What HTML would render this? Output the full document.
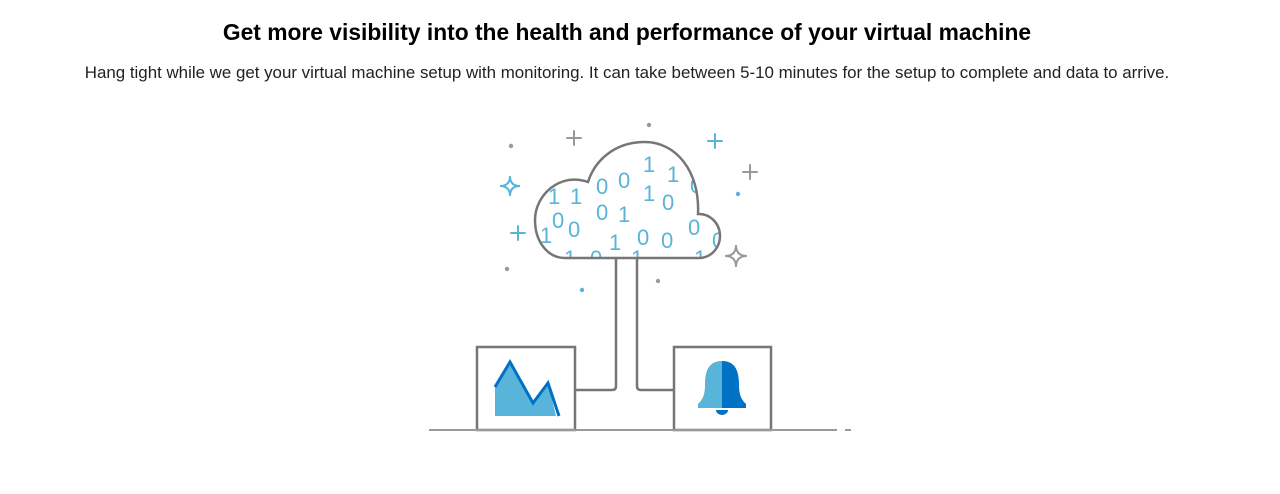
<!DOCTYPE html>
<html><head><style>
body{margin:0;width:1280px;height:494px;background:#fff;font-family:"Liberation Sans",sans-serif;overflow:hidden;position:relative}
h1{position:absolute;top:19px;left:0;width:1254px;text-align:center;margin:0;font-size:22.8px;font-weight:bold;color:#000}
p{position:absolute;top:63px;left:0;width:1254px;text-align:center;margin:0;font-size:16.9px;color:#222}
svg{position:absolute;left:0;top:0}
</style></head><body>
<h1>Get more visibility into the health and performance of your virtual machine</h1>
<p>Hang tight while we get your virtual machine setup with monitoring. It can take between 5-10 minutes for the setup to complete and data to arrive.</p>
<svg width="1280" height="494">
<defs><clipPath id="c"><path d="M565,258 H700 A21,22 0 0 0 698,214 C700,170 675,142 645,142 C615,142 595,160 588,182 C560,172 535,195 535,220 C535,242 548,258 565,258 Z"/></clipPath></defs>
<g clip-path="url(#c)" fill="#59b4d9" font-family="Liberation Sans,sans-serif" font-size="22">
<text x="548" y="204">1</text><text x="570" y="204">1</text><text x="596" y="194">0</text><text x="618" y="188">0</text><text x="643" y="172">1</text><text x="667" y="182">1</text><text x="690" y="193">0</text>
<text x="607" y="148">1</text>
<text x="552" y="228">0</text><text x="596" y="220">0</text><text x="618" y="222">1</text><text x="643" y="201">1</text><text x="662" y="210">0</text>
<text x="540" y="243">1</text><text x="568" y="237">0</text><text x="609" y="250">1</text><text x="637" y="245">0</text><text x="661" y="248">0</text><text x="688" y="235">0</text><text x="712" y="248">0</text>
<text x="564" y="266">1</text><text x="590" y="266">0</text><text x="631" y="266">1</text><text x="694" y="266">1</text>
</g>
<path d="M565,258 H700 A21,22 0 0 0 698,214 C700,170 675,142 645,142 C615,142 595,160 588,182 C560,172 535,195 535,220 C535,242 548,258 565,258 Z" fill="none" stroke="#767676" stroke-width="2.5"/>
<g fill="none" stroke="#767676" stroke-width="2.5">
<path d="M616,258 V386 Q616,390 612,390 H575"/>
<path d="M637,258 V386 Q637,390 641,390 H674"/>
<rect x="477" y="347" width="98" height="83"/>
<rect x="674" y="347" width="97" height="83"/>
</g>
<path d="M429,430 H837 M845,430 H851" stroke="#999" stroke-width="2"/>
<polygon points="495,387 510,362 533,403 548,383 556,416 495,416" fill="#59b4d9"/>
<polyline points="495,387 510,362 533,403 548,383 559,416" fill="none" stroke="#0072c6" stroke-width="3"/>
<path d="M722,361 C708,361 705,372 705,385 C705,396 702,400 698,404 V408 H722 Z" fill="#59b4d9"/>
<path d="M722,361 C736,361 739,372 739,385 C739,396 742,400 746,404 V408 H722 Z" fill="#0072c6"/>
<path d="M716,410 H728 A6,5 0 0 1 716,410 Z" fill="#0072c6"/>
<g stroke-width="2" stroke-linecap="round" fill="none">
<path d="M574,131 V145 M567,138 H581" stroke="#999"/>
<path d="M715,134 V148 M708,141 H722" stroke="#59b4d9"/>
<path d="M750,165 V179 M743,172 H757" stroke="#999"/>
<path d="M518,226 V240 M511,233 H525" stroke="#59b4d9"/>
<path d="M510,176 Q510,186 520,186 Q510,186 510,196 Q510,186 500,186 Q510,186 510,176 Z" stroke="#59b4d9"/>
<path d="M736,245 Q736,256 747,256 Q736,256 736,267 Q736,256 725,256 Q736,256 736,245 Z" stroke="#999"/>
</g>
<g fill="#999"><circle cx="511" cy="146" r="2.2"/><circle cx="649" cy="125" r="2.2"/><circle cx="507" cy="269" r="2.2"/><circle cx="658" cy="281" r="2.2"/></g>
<g fill="#59b4d9"><circle cx="738" cy="194" r="2.2"/><circle cx="582" cy="290" r="2.2"/></g>
</svg>
</body></html>
